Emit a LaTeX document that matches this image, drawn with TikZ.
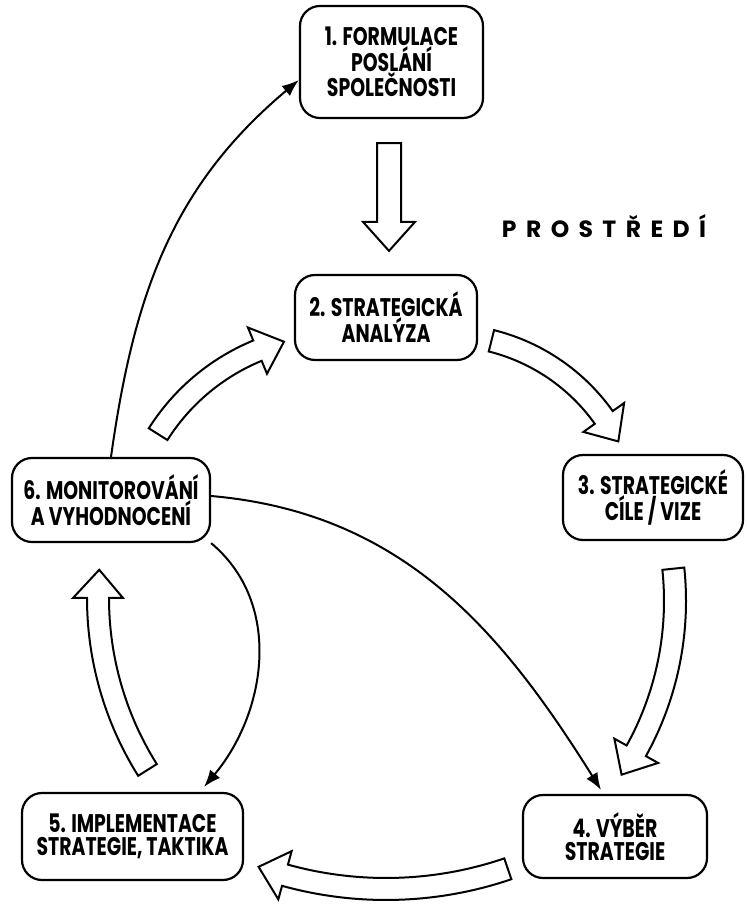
\documentclass[tikz,border=0pt]{standalone}
\usepackage{fontspec}
\newfontfamily\boxfont{Poppins}[FakeStretch=0.74]
\newfontfamily\envfont{Poppins}[LetterSpace=40]
\usetikzlibrary{positioning,arrows.meta,calc}

% curved hollow arrow: centre x, centre y, radius, tail angle, head angle, tip angle
\newcommand{\bentarrow}[6]{%
  \begin{scope}[shift={(#1,#2)}]
    \draw[hollow] ({#4}:{#3+11}) arc[start angle=#4, end angle=#5, radius=#3+11]
      -- ({#5}:{#3+25}) -- ({#6}:{#3}) -- ({#5}:{#3-25}) -- ({#5}:{#3-11})
      arc[start angle=#5, end angle=#4, radius=#3-11] -- cycle;
  \end{scope}}

\begin{document}
\begin{tikzpicture}[x=1pt, y=1pt,
  stage/.style={draw, line width=2.2pt, rounded corners=20pt, align=center, inner sep=0pt,
    font=\boxfont\bfseries\fontsize{25.5}{23.5}\selectfont},
  hollow/.style={draw, line width=2pt, fill=white, line join=miter},
  link/.style={line width=2pt, -{Latex[length=17pt, width=13pt]}}]
  \useasboundingbox (0,0) rectangle (747,905);

  \node[stage, minimum width=183, minimum height=112] (form) at (391.5,843) {1. FORMULACE\\POSLÁNÍ\\SPOLEČNOSTI};
  \node[stage, minimum width=182, minimum height=85] (anal) at (386,587.5) {2. STRATEGICKÁ\\ANALÝZA};
  \node[stage, minimum width=180, minimum height=85] (goal) at (653,407.5) {3. STRATEGICKÉ\\CÍLE / VIZE};
  \node[stage, minimum width=184, minimum height=83] (sel) at (615,68.5) {4. VÝBĚR\\STRATEGIE};
  \node[stage, minimum width=221, minimum height=87] (impl) at (132.5,68.5) {5. IMPLEMENTACE\\STRATEGIE, TAKTIKA};
  \node[stage, minimum width=198, minimum height=84] (mon) at (111,405) {6. MONITOROVÁNÍ\\A VYHODNOCENÍ};

  \node[font=\envfont\bfseries\fontsize{23.5}{23.5}\selectfont] (env) at (604,679) {PROSTŘEDÍ};

  % straight block arrow 1 -> 2
  \coordinate (top) at ($(form.south)+(-2.5,-24)$);
  \coordinate (tip) at ($(anal.north)+(3,23)$);
  \draw[hollow] ($(top)+(-12,0)$) -- ($(top)+(12,0)$) -- ($(tip)+(12,29)$) -- ($(tip)+(26,29)$)
    -- (tip) -- ($(tip)+(-26,29)$) -- ($(tip)+(-12,29)$) -- cycle;

  % cycle of curved block arrows
  \bentarrow{339}{356.5}{214}{147.7}{112.4}{104.9}
  \bentarrow{444}{374}{196}{76}{35.4}{27.2}
  \bentarrow{366}{304}{309}{6}{-29}{-34.2}
  \bentarrow{386}{394}{378}{-71.2}{-105.5}{-109.7}
  \bentarrow{421.6}{307}{323.6}{212.1}{180}{175}

  % thin arrows out of monitoring
  \draw[link] (mon.north) to[out=82, in=220] ([yshift=-18]form.west);
  \draw[link] ([yshift=4]mon.east) to[out=-5, in=122] ([xshift=-14, yshift=4]sel.north);
  \draw[link] (mon.south east) to[out=-40, in=50] ([xshift=-40, yshift=5]impl.north east);
\end{tikzpicture}
\end{document}
